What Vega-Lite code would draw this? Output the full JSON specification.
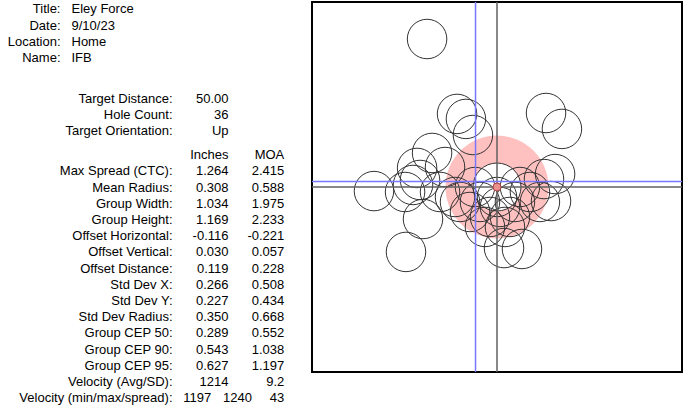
{
  "$schema": "https://vega.github.io/schema/vega-lite/v6.json",
  "padding": 0,
  "bounds": "flush",
  "spacing": 12,
  "background": "white",
  "config": {"view": {"stroke": null}, "text": {"font": "Liberation Sans", "fontSize": 13, "color": "black", "baseline": "middle"}},
  "datasets": {
    "info": [
      {"line": 0, "tlabel": "Title:", "tvalue": "Eley Force"},
      {"line": 1, "tlabel": "Date:", "tvalue": "9/10/23"},
      {"line": 2, "tlabel": "Location:", "tvalue": "Home"},
      {"line": 3, "tlabel": "Name:", "tvalue": "IFB"},
      {"line": 5.5, "label": "Target Distance:", "inches": "50.00"},
      {"line": 6.5, "label": "Hole Count:", "inches": "36"},
      {"line": 7.5, "label": "Target Orientation:", "inches": "Up"},
      {"line": 9, "inches": "Inches", "moa": "MOA"},
      {"line": 10, "label": "Max Spread (CTC):", "inches": "1.264", "moa": "2.415"},
      {"line": 11, "label": "Mean Radius:", "inches": "0.308", "moa": "0.588"},
      {"line": 12, "label": "Group Width:", "inches": "1.034", "moa": "1.975"},
      {"line": 13, "label": "Group Height:", "inches": "1.169", "moa": "2.233"},
      {"line": 14, "label": "Offset Horizontal:", "inches": "-0.116", "moa": "-0.221"},
      {"line": 15, "label": "Offset Vertical:", "inches": "0.030", "moa": "0.057"},
      {"line": 16, "label": "Offset Distance:", "inches": "0.119", "moa": "0.228"},
      {"line": 17, "label": "Std Dev X:", "inches": "0.266", "moa": "0.508"},
      {"line": 18, "label": "Std Dev Y:", "inches": "0.227", "moa": "0.434"},
      {"line": 19, "label": "Std Dev Radius:", "inches": "0.350", "moa": "0.668"},
      {"line": 20, "label": "Group CEP 50:", "inches": "0.289", "moa": "0.552"},
      {"line": 21, "label": "Group CEP 90:", "inches": "0.543", "moa": "1.038"},
      {"line": 22, "label": "Group CEP 95:", "inches": "0.627", "moa": "1.197"},
      {"line": 23, "label": "Velocity (Avg/SD):", "inches": "1214", "moa": "9.2"},
      {"line": 24, "label": "Velocity (min/max/spread):", "vmin": "1197", "vmax": "1240", "moa": "43"}
    ],
    "holes": [
      {"x": -0.378, "y": 0.800}, {"x": -0.216, "y": 0.395}, {"x": -0.168, "y": 0.368},
      {"x": -0.130, "y": 0.281}, {"x": 0.265, "y": 0.400}, {"x": 0.351, "y": 0.314},
      {"x": -0.665, "y": -0.022}, {"x": -0.497, "y": -0.027}, {"x": -0.400, "y": -0.173},
      {"x": -0.492, "y": -0.351}, {"x": -0.351, "y": 0.184}, {"x": -0.432, "y": 0.103},
      {"x": -0.416, "y": 0.038}, {"x": -0.281, "y": 0.108}, {"x": -0.454, "y": 0.011},
      {"x": -0.308, "y": -0.027}, {"x": -0.227, "y": -0.054}, {"x": 0.314, "y": 0.070},
      {"x": 0.254, "y": 0.043}, {"x": 0.292, "y": -0.076}, {"x": 0.232, "y": -0.081},
      {"x": 0.038, "y": -0.330}, {"x": 0.135, "y": -0.335}, {"x": 0.000, "y": -0.054},
      {"x": -0.092, "y": -0.081}, {"x": 0.016, "y": -0.108}, {"x": 0.097, "y": -0.081},
      {"x": -0.146, "y": -0.135}, {"x": -0.038, "y": -0.162}, {"x": 0.070, "y": -0.162},
      {"x": 0.124, "y": 0.000}, {"x": -0.119, "y": 0.000}, {"x": 0.178, "y": -0.027},
      {"x": -0.065, "y": -0.216}, {"x": 0.043, "y": -0.216}, {"x": -0.200, "y": -0.081}
    ],
    "centers": [
      {"kind": "aim", "x": 0, "y": 0},
      {"kind": "group", "x": -0.116, "y": 0.030}
    ]
  },
  "hconcat": [
    {
      "width": 300,
      "height": 410,
      "view": {"stroke": null},
      "data": {"name": "info"},
      "encoding": {
        "y": {"field": "line", "type": "quantitative", "scale": {"domain": [-0.457, 24.85], "nice": false, "zero": false, "reverse": true}, "axis": null}
      },
      "layer": [
        {
          "transform": [{"filter": "isValid(datum.tlabel)"}],
          "mark": {"type": "text", "align": "right"},
          "encoding": {"x": {"datum": 60.5, "type": "quantitative", "scale": {"domain": [0, 300], "nice": false, "zero": false}, "axis": null}, "text": {"field": "tlabel"}}
        },
        {
          "transform": [{"filter": "isValid(datum.tvalue)"}],
          "mark": {"type": "text", "align": "left"},
          "encoding": {"x": {"datum": 71.5, "type": "quantitative"}, "text": {"field": "tvalue"}}
        },
        {
          "transform": [{"filter": "isValid(datum.label)"}],
          "mark": {"type": "text", "align": "right"},
          "encoding": {"x": {"datum": 172.5, "type": "quantitative"}, "text": {"field": "label"}}
        },
        {
          "transform": [{"filter": "isValid(datum.inches)"}],
          "mark": {"type": "text", "align": "right"},
          "encoding": {"x": {"datum": 228.5, "type": "quantitative"}, "text": {"field": "inches"}}
        },
        {
          "transform": [{"filter": "isValid(datum.moa)"}],
          "mark": {"type": "text", "align": "right"},
          "encoding": {"x": {"datum": 284.3, "type": "quantitative"}, "text": {"field": "moa"}}
        },
        {
          "transform": [{"filter": "isValid(datum.vmin)"}],
          "mark": {"type": "text", "align": "right"},
          "encoding": {"x": {"datum": 211.3, "type": "quantitative"}, "text": {"field": "vmin"}}
        },
        {
          "transform": [{"filter": "isValid(datum.vmax)"}],
          "mark": {"type": "text", "align": "right"},
          "encoding": {"x": {"datum": 252, "type": "quantitative"}, "text": {"field": "vmax"}}
        }
      ]
    },
    {
      "width": 370,
      "height": 370,
      "view": {"stroke": "black", "strokeWidth": 2},
      "encoding": {
        "x": {"field": "x", "type": "quantitative", "scale": {"domain": [-1, 1], "nice": false, "zero": false}, "axis": null},
        "y": {"field": "y", "type": "quantitative", "scale": {"domain": [-1, 1], "nice": false, "zero": false}, "axis": null}
      },
      "layer": [
        {
          "data": {"name": "centers"},
          "transform": [{"filter": "datum.kind == 'aim'"}],
          "mark": {"type": "point", "shape": "circle", "filled": true, "size": 10609, "color": "#ffc0c0", "opacity": 1, "strokeWidth": 0}
        },
        {
          "data": {"name": "centers"},
          "transform": [{"filter": "datum.kind == 'aim'"}],
          "mark": {"type": "point", "shape": "circle", "filled": true, "size": 2304, "fill": "white", "stroke": "#333333", "strokeWidth": 1, "opacity": 1}
        },
        {
          "data": {"name": "holes"},
          "mark": {"type": "point", "shape": "circle", "filled": false, "size": 1560, "stroke": "#333333", "strokeWidth": 1, "opacity": 1}
        },
        {
          "data": {"name": "centers"},
          "mark": {"type": "rule", "strokeWidth": 1.5},
          "encoding": {
            "y": null,
            "color": {"field": "kind", "type": "nominal", "scale": {"domain": ["aim", "group"], "range": ["#606060", "#7878ff"]}, "legend": null}
          }
        },
        {
          "data": {"name": "centers"},
          "mark": {"type": "rule", "strokeWidth": 1.5},
          "encoding": {
            "x": null,
            "color": {"field": "kind", "type": "nominal", "scale": {"domain": ["aim", "group"], "range": ["#606060", "#7878ff"]}, "legend": null}
          }
        },
        {
          "data": {"name": "centers"},
          "transform": [{"filter": "datum.kind == 'aim'"}],
          "mark": {"type": "point", "shape": "circle", "filled": true, "size": 64, "fill": "#e89090", "stroke": "#b04040", "strokeWidth": 1, "opacity": 1}
        }
      ]
    }
  ]
}
